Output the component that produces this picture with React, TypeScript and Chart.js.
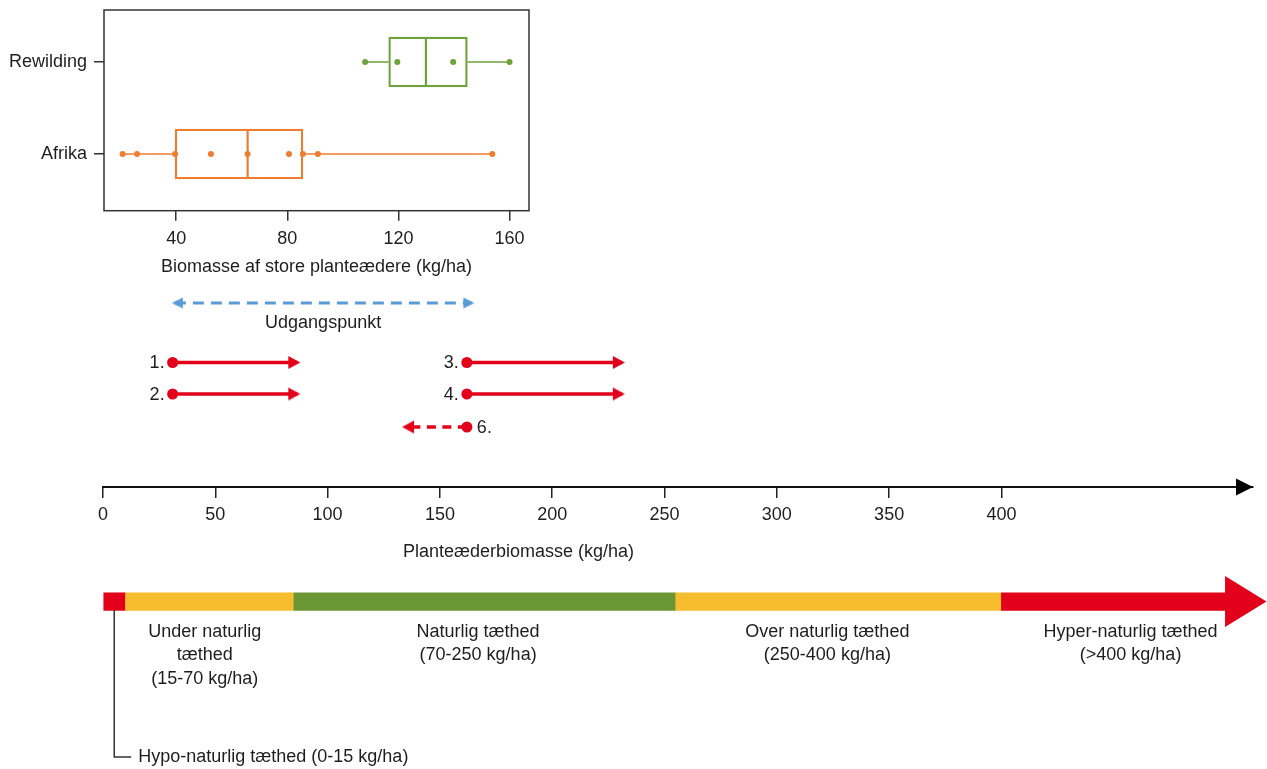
import React, { useEffect, useRef } from 'react';
import { Chart, registerables } from 'chart.js';

Chart.register(...registerables);

// ---------------- Box plot data (kg/ha) ----------------
const BOX_CATEGORIES = ['Rewilding', 'Afrika'];
const REWILDING_POINTS = [108, 119.6, 139.7, 160];
const AFRIKA_POINTS = [20.7, 25.9, 39.6, 52.5, 65.7, 80.6, 85.6, 91.0, 153.8];
const BOX_MIN = [108, 20.7];
const BOX_Q1 = [116.5, 39.6];
const BOX_MEDIAN = [129.9, 65.7];
const BOX_Q3 = [144.8, 85.6];
const BOX_MAX = [160, 153.8];
const BOX_TICKS = [40, 80, 120, 160];
const BOX_AXIS_TITLE = 'Biomasse af store planteædere (kg/ha)';

// ---------------- Scenario arrows (kg/ha) ----------------
const BASELINE_LABEL = 'Udgangspunkt';
const BASELINE_RANGE = [32, 164];
const ARROW_LABELS = ['1.', '2.', '3.', '4.', '6.'];
const ARROW_START = [31, 31, 162, 162, 162];
const ARROW_END = [86.5, 86.5, 231, 231, 134.5];
const ARROW_DASHED = [false, false, false, false, true];

// ---------------- Main axis ----------------
const AXIS_TICKS = [0, 50, 100, 150, 200, 250, 300, 350, 400];
const AXIS_TITLE = 'Planteæderbiomasse (kg/ha)';

// ---------------- Density classes ----------------
const CLASS_FROM = [0, 10, 85, 255, 400];
const CLASS_TO = [10, 85, 255, 400, 500];
const CLASS_ARROW_TIP = 518;
const CLASS_LABELS = [
  [],
  ['Under naturlig', 'tæthed', '(15-70 kg/ha)'],
  ['Naturlig tæthed', '(70-250 kg/ha)'],
  ['Over naturlig tæthed', '(250-400 kg/ha)'],
  ['Hyper-naturlig tæthed', '(>400 kg/ha)'],
];
const HYPO_LABEL = 'Hypo-naturlig tæthed (0-15 kg/ha)';

// ---------------- Layout & style (not data) ----------------
const FAMILY = '"Liberation Sans", Arial, Helvetica, sans-serif';
const TEXT = '#1e1e1e';
const RED = '#E2001A';
const YELLOW = '#F6BD2F';
const GREEN_BAR = '#6A9733';
const BLUE = '#5B9BD5';
const ORANGE = '#ED7D31';
const GREEN_BOX = '#6FA23A';
const BOX_COLORS = [GREEN_BOX, ORANGE];
const CLASS_COLORS = [RED, YELLOW, GREEN_BAR, YELLOW, RED];
const BOX_POS = [1, 0];
const BOX_HALF = 25;
const LABEL_AT = [0, 45.3, 167, 322.5, 457.5];
const AXIS_TITLE_AT = 185;
// vertical rows of the lower panel (offset below its top)
const ROW = { base: 23, baseText: 43, a1: 82.5, a2: 114, a6: 147, axis: 207, axisTitle: 272, bar: 321.6, label1: 352, hypo: 477 };
const ARROW_ROWS = [ROW.a1, ROW.a2, ROW.a1, ROW.a2, ROW.a6];
const LINE_GAP = 23.5;

function makeArrowHead(color: string, len: number, half: number, shift: number) {
  const w = Math.ceil(2 * (len + shift)) + 2;
  const h = Math.ceil(2 * half) + 2;
  const c = document.createElement('canvas');
  c.width = w;
  c.height = h;
  const g = c.getContext('2d')!;
  const cx = w / 2, cy = h / 2;
  g.fillStyle = color;
  g.beginPath();
  g.moveTo(cx + shift, cy);
  g.lineTo(cx + shift - len, cy - half);
  g.lineTo(cx + shift - len, cy + half);
  g.closePath();
  g.fill();
  return c;
}

const zeroPad = (s: any) => {
  s.paddingTop = 0;
  s.paddingBottom = 0;
  s.paddingLeft = 0;
  s.paddingRight = 0;
};

const boxPlugin = {
  id: 'boxDecor',
  beforeDatasetsDraw(chart: any) {
    const { ctx, scales: { x, y } } = chart;
    ctx.save();
    BOX_CATEGORIES.forEach((_, i) => {
      const py = y.getPixelForValue(BOX_POS[i]);
      ctx.strokeStyle = BOX_COLORS[i];
      ctx.lineWidth = 1.6;
      ctx.beginPath();
      ctx.moveTo(x.getPixelForValue(BOX_MIN[i]), py);
      ctx.lineTo(x.getPixelForValue(BOX_Q1[i]), py);
      ctx.moveTo(x.getPixelForValue(BOX_Q3[i]), py);
      ctx.lineTo(x.getPixelForValue(BOX_MAX[i]), py);
      ctx.stroke();
      const pm = x.getPixelForValue(BOX_MEDIAN[i]);
      ctx.lineWidth = 2.2;
      ctx.beginPath();
      ctx.moveTo(pm, py - BOX_HALF);
      ctx.lineTo(pm, py + BOX_HALF);
      ctx.stroke();
    });
    ctx.restore();
  },
  afterDraw(chart: any) {
    const { ctx, chartArea: a } = chart;
    ctx.save();
    ctx.strokeStyle = '#333';
    ctx.lineWidth = 1.5;
    ctx.strokeRect(a.left, a.top, a.right - a.left, a.bottom - a.top);
    ctx.restore();
  },
};

const lowerPlugin = {
  id: 'lowerDecor',
  afterDatasetsDraw(chart: any) {
    const { ctx, scales: { x, y } } = chart;
    ctx.save();
    ctx.font = `18px ${FAMILY}`;
    ctx.fillStyle = TEXT;
    ctx.textBaseline = 'middle';

    // arrow labels
    ARROW_LABELS.forEach((lab, i) => {
      const px = x.getPixelForValue(ARROW_START[i]);
      const py = y.getPixelForValue(ARROW_ROWS[i]);
      const toRight = ARROW_END[i] > ARROW_START[i];
      ctx.textAlign = toRight ? 'right' : 'left';
      ctx.fillText(lab, toRight ? px - 8 : px + 10, py + 1);
    });

    // baseline label
    ctx.textAlign = 'center';
    ctx.fillText(
      BASELINE_LABEL,
      x.getPixelForValue((BASELINE_RANGE[0] + BASELINE_RANGE[1]) / 2),
      y.getPixelForValue(ROW.baseText)
    );

    // axis title
    ctx.fillText(AXIS_TITLE, x.getPixelForValue(AXIS_TITLE_AT), y.getPixelForValue(ROW.axisTitle));

    // axis arrowhead
    const ay = y.getPixelForValue(ROW.axis);
    ctx.fillStyle = '#000';
    ctx.beginPath();
    ctx.moveTo(x.right, ay);
    ctx.lineTo(x.right - 17, ay - 8.5);
    ctx.lineTo(x.right - 17, ay + 8.5);
    ctx.closePath();
    ctx.fill();

    // class bar arrowhead
    const by = y.getPixelForValue(ROW.bar);
    const last = CLASS_TO.length - 1;
    const hx0 = x.getPixelForValue(CLASS_TO[last]) - 1;
    const hx1 = x.getPixelForValue(CLASS_ARROW_TIP);
    ctx.fillStyle = CLASS_COLORS[last];
    ctx.beginPath();
    ctx.moveTo(hx1, by);
    ctx.lineTo(hx0, by - 25.5);
    ctx.lineTo(hx0, by + 25.5);
    ctx.closePath();
    ctx.fill();

    // class labels
    ctx.fillStyle = TEXT;
    ctx.textAlign = 'center';
    const l1 = y.getPixelForValue(ROW.label1);
    CLASS_LABELS.forEach((lines, i) => {
      lines.forEach((t, k) => {
        ctx.fillText(t, x.getPixelForValue(LABEL_AT[i]), l1 + k * LINE_GAP);
      });
    });

    // hypo leader line and label
    const hx = x.getPixelForValue((CLASS_FROM[0] + CLASS_TO[0]) / 2);
    const hy = y.getPixelForValue(ROW.hypo);
    ctx.strokeStyle = '#333';
    ctx.lineWidth = 1.5;
    ctx.beginPath();
    ctx.moveTo(hx, by + 8.5);
    ctx.lineTo(hx, hy);
    ctx.lineTo(hx + 17, hy);
    ctx.stroke();
    ctx.textAlign = 'left';
    ctx.fillText(HYPO_LABEL, hx + 24, hy);

    ctx.restore();
  },
};

export default function App() {
  const topRef = useRef<HTMLCanvasElement>(null);
  const bottomRef = useRef<HTMLCanvasElement>(null);

  useEffect(() => {
    const font18 = { size: 18, family: FAMILY };

    const c1 = new Chart(topRef.current!, {
      type: 'scatter',
      data: {
        datasets: [
          {
            type: 'bar',
            indexAxis: 'y',
            data: BOX_CATEGORIES.map((_, i) => ({ x: [BOX_Q1[i], BOX_Q3[i]], y: BOX_POS[i] })),
            backgroundColor: 'rgba(0,0,0,0)',
            borderColor: BOX_COLORS,
            borderWidth: 1.6,
            borderSkipped: false,
            barThickness: BOX_HALF * 2,
          } as any,
          {
            type: 'scatter',
            data: REWILDING_POINTS.map((v) => ({ x: v, y: BOX_POS[0] })),
            pointRadius: 3,
            pointBackgroundColor: BOX_COLORS[0],
            pointBorderWidth: 0,
          } as any,
          {
            type: 'scatter',
            data: AFRIKA_POINTS.map((v) => ({ x: v, y: BOX_POS[1] })),
            pointRadius: 3,
            pointBackgroundColor: BOX_COLORS[1],
            pointBorderWidth: 0,
          } as any,
        ],
      },
      options: {
        responsive: false,
        animation: false,
        events: [],
        layout: { autoPadding: false, padding: { left: 0, right: 11, top: 10, bottom: 0 } },
        plugins: { legend: { display: false }, tooltip: { enabled: false } },
        scales: {
          x: {
            type: 'linear',
            position: 'bottom',
            min: 14,
            max: 167,
            offset: false,
            beginAtZero: false,
            afterBuildTicks: (s: any) => {
              s.ticks = BOX_TICKS.map((v) => ({ value: v }));
            },
            afterFit: (s: any) => {
              s.height = 69.3;
              zeroPad(s);
            },
            grid: { display: true, drawOnChartArea: false, drawTicks: true, tickLength: 10, color: '#333', lineWidth: 1.5, offset: false },
            border: { display: false },
            ticks: { font: font18, color: TEXT, padding: 8, autoSkip: false, maxRotation: 0 },
            title: { display: true, text: BOX_AXIS_TITLE, font: font18, color: TEXT, padding: { top: 0, bottom: 2 } },
          },
          y: {
            type: 'linear',
            position: 'left',
            min: -0.616,
            max: 1.565,
            offset: false,
            beginAtZero: false,
            afterBuildTicks: (s: any) => {
              s.ticks = BOX_POS.map((v) => ({ value: v }));
            },
            afterFit: (s: any) => {
              s.width = 104;
              zeroPad(s);
            },
            grid: { display: true, drawOnChartArea: false, drawTicks: true, tickLength: 10, color: '#333', lineWidth: 1.5, offset: false },
            border: { display: false },
            ticks: {
              font: font18,
              color: TEXT,
              padding: 7,
              autoSkip: false,
              callback: (v: any) => {
                const k = BOX_POS.indexOf(Number(v));
                return k >= 0 ? BOX_CATEGORIES[k] : '';
              },
            },
          },
        },
      } as any,
      plugins: [boxPlugin],
    });

    const redHead = makeArrowHead(RED, 12, 6.5, 3);
    const blueHead = makeArrowHead(BLUE, 11, 5.5, 3);

    const arrowSets = ARROW_LABELS.map((_, i) => {
      const toRight = ARROW_END[i] > ARROW_START[i];
      return {
        type: 'scatter',
        showLine: true,
        data: [
          { x: ARROW_START[i], y: ARROW_ROWS[i] },
          { x: ARROW_END[i], y: ARROW_ROWS[i] },
        ],
        borderColor: RED,
        borderWidth: 3.5,
        borderDash: ARROW_DASHED[i] ? [9, 6.5] : [],
        pointStyle: ['circle', redHead],
        pointRotation: [0, toRight ? 0 : 180],
        pointRadius: [5.5, 6],
        pointBackgroundColor: RED,
        pointBorderColor: RED,
        pointBorderWidth: 0,
      } as any;
    });

    const c2 = new Chart(bottomRef.current!, {
      type: 'scatter',
      data: {
        datasets: [
          {
            type: 'bar',
            indexAxis: 'y',
            data: CLASS_FROM.map((f, i) => ({ x: [f, CLASS_TO[i]], y: ROW.bar })),
            backgroundColor: CLASS_COLORS,
            borderWidth: 0,
            borderSkipped: false,
            barThickness: 17.6,
          } as any,
          {
            type: 'scatter',
            showLine: true,
            data: [
              { x: BASELINE_RANGE[0], y: ROW.base },
              { x: BASELINE_RANGE[1], y: ROW.base },
            ],
            borderColor: BLUE,
            borderWidth: 3,
            borderDash: [11, 7],
            pointStyle: [blueHead, blueHead],
            pointRotation: [180, 0],
            pointRadius: [6, 6],
            pointBackgroundColor: BLUE,
            pointBorderWidth: 0,
          } as any,
          ...arrowSets,
        ],
      },
      options: {
        responsive: false,
        animation: false,
        events: [],
        layout: { autoPadding: false, padding: { left: 103, right: 14, top: 0, bottom: 0 } },
        plugins: { legend: { display: false }, tooltip: { enabled: false } },
        scales: {
          x: {
            type: 'linear',
            min: 0,
            max: 512,
            position: { y: ROW.axis },
            offset: false,
            beginAtZero: false,
            afterBuildTicks: (s: any) => {
              s.ticks = AXIS_TICKS.map((v) => ({ value: v }));
            },
            afterFit: zeroPad,
            grid: { display: true, drawOnChartArea: false, drawTicks: true, tickLength: 10, color: '#222', lineWidth: 1.5, offset: false },
            border: { display: true, color: '#111', width: 2 },
            ticks: { font: font18, color: TEXT, padding: 7, autoSkip: false, maxRotation: 0 },
          },
          y: {
            type: 'linear',
            min: 0,
            max: 489,
            reverse: true,
            display: false,
            offset: false,
            beginAtZero: false,
          },
        },
      } as any,
      plugins: [lowerPlugin],
    });

    return () => {
      c1.destroy();
      c2.destroy();
    };
  }, []);

  return (
    <div style={{ position: 'absolute', left: 0, top: 0, width: 1267, height: 769, background: '#fff', overflow: 'hidden' }}>
      <canvas ref={topRef} width={540} height={280} style={{ position: 'absolute', left: 0, top: 0 }} />
      <canvas ref={bottomRef} width={1267} height={489} style={{ position: 'absolute', left: 0, top: 280 }} />
    </div>
  );
}
